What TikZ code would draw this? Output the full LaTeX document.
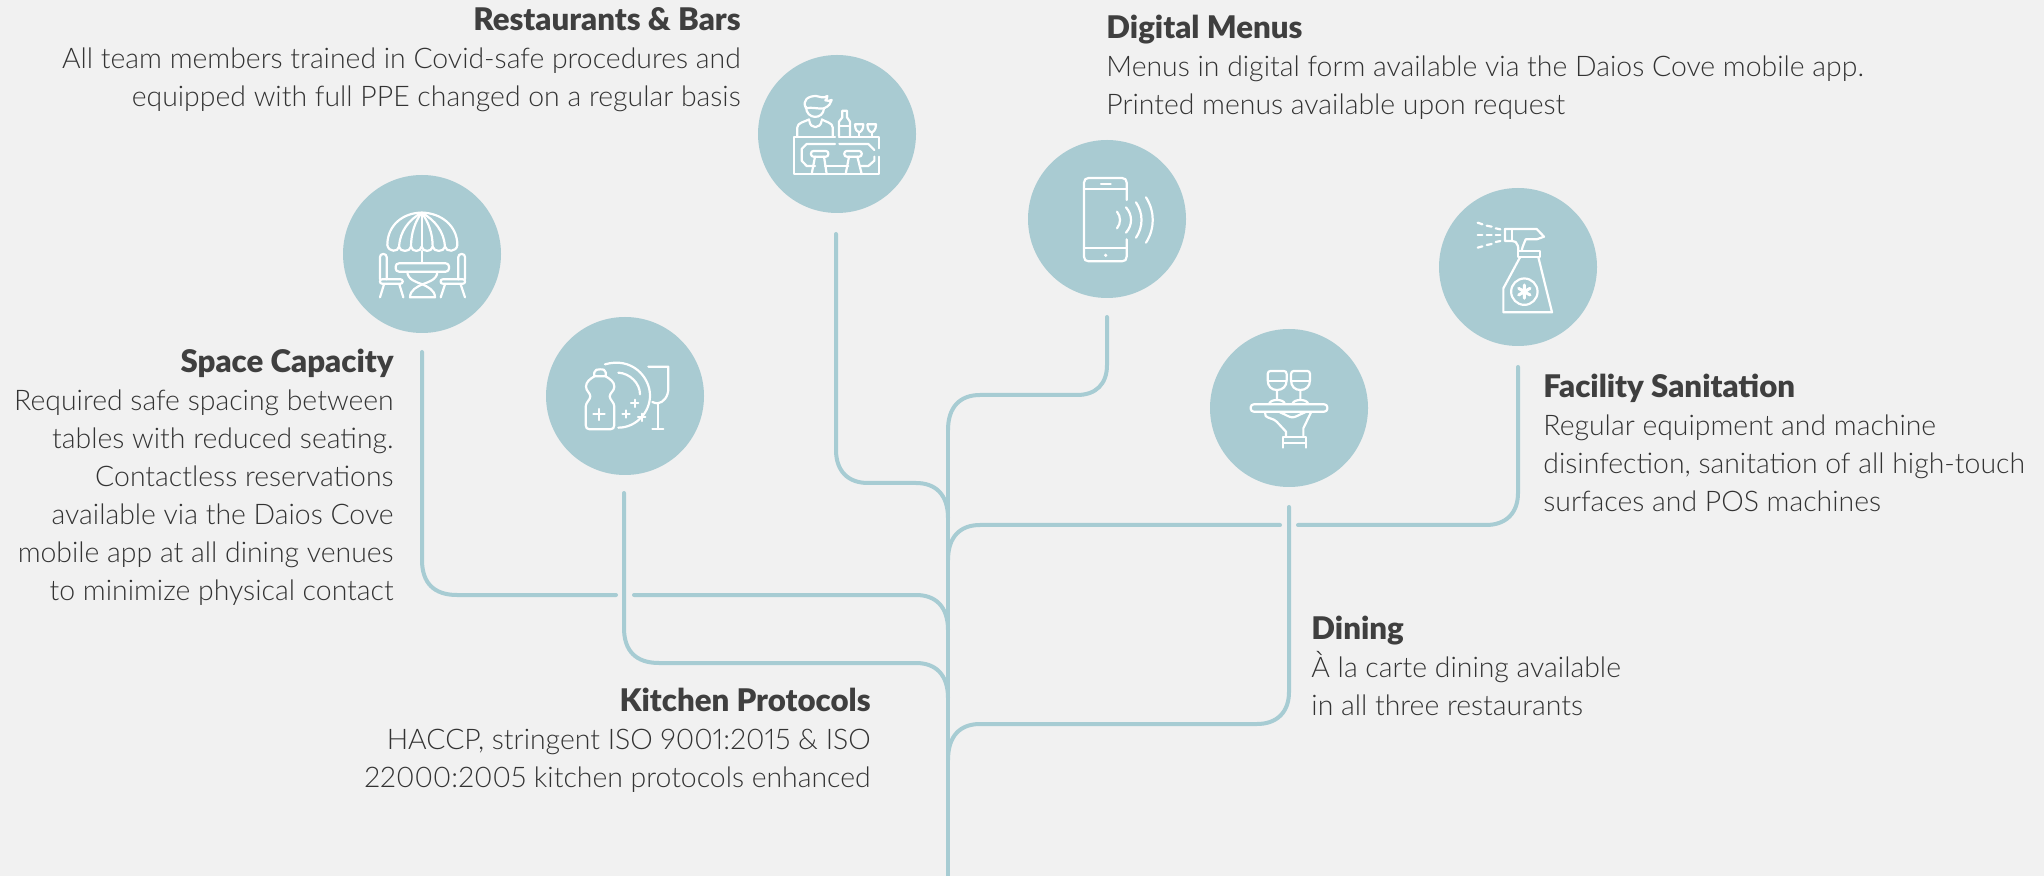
\documentclass[tikz,border=0pt]{standalone}
\usepackage{fontspec}
\setmainfont{Lato}[UprightFont=* Light,BoldFont=* Black,Numbers=Proportional]
\definecolor{bgc}{HTML}{F1F1F1}
\definecolor{teal}{HTML}{A9CBD2}
\definecolor{linec}{HTML}{A7CCD3}
\definecolor{txt}{HTML}{333333}
\definecolor{hdc}{HTML}{3F3F3F}
\newcommand{\bodysize}{\fontsize{14.2}{19}\selectfont}
\newcommand{\hd}[1]{{\rule{0pt}{12pt}\fontsize{15.6}{19}\selectfont\bfseries\color{hdc} #1}}
\begin{document}
\begin{tikzpicture}[x=0.5pt,y=-0.5pt,
  badge/.style={circle,fill=teal,minimum size=79pt,inner sep=0pt,draw=none},
  branch/.style={draw=linec,line width=2pt,line cap=round,line join=round},
  blockr/.style={anchor=north east,inner sep=0pt,align=right,text=txt,font=\bodysize},
  blockl/.style={anchor=north west,inner sep=0pt,align=left,text=txt,font=\bodysize},
  glyph/.style={x=0.16667pt,y=-0.16667pt,draw=white,line width=1.1pt,line cap=round,line join=round}]
\useasboundingbox (0,0) rectangle (2044,876);
\fill[bgc] (0,0) rectangle (2044,876);
% badges
\node[badge] (rest) at (837,134) {};
\node[badge] (space) at (422,254) {};
\node[badge] (kitchen) at (625,396) {};
\node[badge] (digital) at (1107,219) {};
\node[badge] (dining) at (1289,408) {};
\node[badge] (facility) at (1518,267) {};
% connector ends
\coordinate (tb) at (948,876);
\coordinate (tt) at (948,430);
\coordinate (rs) at (836,234);
\coordinate (ss) at (422,352);
\coordinate (ks) at (624,493);
\coordinate (ds) at (1107,317);
\coordinate (ns) at (1289,507);
\coordinate (fs) at (1518,367);
\coordinate (sgl) at (616,595);
\coordinate (sgr) at (634,595);
\coordinate (fgl) at (1280,525);
\coordinate (fgr) at (1298,525);
% trunk and branches
\draw[branch] (tb) -- (tt);
\draw[branch] (tt) .. controls (948,407) and (960,395) .. (980,395) -- (1077,395) .. controls (1096,395) and (1107,384) .. (1107,365) -- (ds);
\draw[branch] (rs) -- (836,450) .. controls (836,471) and (848,483) .. (868,483) -- (916,483) .. controls (936,483) and (948,495) .. (948,518);
\draw[branch] (ss) -- (422,560) .. controls (422,583) and (434,595) .. (457,595) -- (sgl);
\draw[branch] (sgr) -- (916,595) .. controls (936,595) and (948,607) .. (948,630);
\draw[branch] (ks) -- (624,628) .. controls (624,651) and (636,663) .. (659,663) -- (916,663) .. controls (936,663) and (948,675) .. (948,698);
\draw[branch] (948,560) .. controls (948,537) and (960,525) .. (980,525) -- (fgl);
\draw[branch] (fgr) -- (1486,525) .. controls (1506,525) and (1518,513) .. (1518,493) -- (fs);
\draw[branch] (948,760) .. controls (948,736) and (960,724) .. (980,724) -- (1257,724) .. controls (1277,724) and (1289,712) .. (1289,692) -- (ns);
% text
\node[blockr] (t1) at (741,6.5) {\hd{Restaurants \& Bars}\\All team members trained in Covid-safe procedures and\\equipped with full PPE changed on a regular basis};
\node[blockl] (t2) at (1106,14) {\hd{Digital Menus}\\Menus in digital form available via the Daios Cove mobile app.\\Printed menus available upon request};
\node[blockr] (t3) at (394,348) {\hd{Space Capacity}\\Required safe spacing between\\tables with reduced seating.\\Contactless reservations\\available via the Daios Cove\\mobile app at all dining venues\\to minimize physical contact};
\node[blockr] (t4) at (871,687) {\hd{Kitchen Protocols}\\HACCP, stringent ISO 9001:2015 \& ISO\\22000:2005 kitchen protocols enhanced};
\node[blockl] (t5) at (1543,373) {\hd{Facility Sanitation}\\Regular equipment and machine\\disinfection, sanitation of all high-touch\\surfaces and POS machines};
\node[blockl] (t6) at (1311,615) {\hd{Dining}\\À la carte dining available\\in all three restaurants};
% bar icon
\begin{scope}[shift={(740,40)},glyph]
\draw (285,290)--(162,290)--(162,402)--(418,402)--(418,350);
\draw (418,325)--(418,290)--(297,290);
\draw (285,312)--(200,312)--(185,327)--(185,362)--(200,378)--(225,378);
\draw (255,378)--(325,378);
\draw (360,378)--(385,378)--(403,362)--(403,350);
\draw (403,330)--(385,312)--(298,312);
\draw[rounded corners=1.2pt] (213,333) rectangle (265,350);
\draw[rounded corners=1.2pt] (313,333) rectangle (365,350);
\draw (225,350)--(215,402) (252,350)--(260,402) (327,350)--(317,402) (352,350)--(365,402);
\draw (172,288)--(172,262) .. controls (172,248) and (195,245) .. (208,238);
\draw (245,238) .. controls (255,245) and (278,248) .. (278,262)--(278,288);
\draw (208,242) .. controls (210,268) and (242,268) .. (245,242);
\draw (198,200) .. controls (198,240) and (250,240) .. (252,205);
\draw (198,205) .. controls (185,180) and (205,168) .. (228,168) .. controls (240,170) and (250,176) .. (262,168) .. controls (262,175) and (260,178) .. (256,181) .. controls (262,183) and (268,183) .. (275,180) .. controls (272,190) and (268,198) .. (252,205) .. controls (235,208) and (215,200) .. (198,205);
\draw (297,288)--(297,245)--(307,232)--(307,212)--(321,212)--(321,232)--(330,245)--(330,288);
\draw (297,258)--(330,258);
\draw (345,253)--(370,253) .. controls (370,270) and (362,276) .. (357,277) .. controls (352,276) and (345,270) .. (345,253);
\draw (357,277)--(357,288);
\draw (382,253)--(408,253) .. controls (408,270) and (400,276) .. (395,277) .. controls (390,276) and (382,270) .. (382,253);
\draw (395,277)--(395,288);
\end{scope}
% umbrella icon
\begin{scope}[shift={(330,165)},glyph]
\draw (172,240) .. controls (172,180) and (220,143) .. (275,143) .. controls (330,143) and (382,180) .. (382,240);
\draw (172,240) .. controls (175,262) and (205,262) .. (207,245) .. controls (210,262) and (240,262) .. (243,245) .. controls (246,262) and (272,262) .. (275,245) .. controls (278,262) and (305,262) .. (308,245) .. controls (311,262) and (342,262) .. (345,245) .. controls (348,262) and (380,262) .. (382,240);
\draw (275,143) .. controls (235,165) and (210,200) .. (207,245);
\draw (275,143) .. controls (255,170) and (243,205) .. (243,245);
\draw (275,143)--(275,245);
\draw (275,143) .. controls (295,170) and (308,205) .. (308,245);
\draw (275,143) .. controls (315,165) and (342,200) .. (345,245);
\draw (275,258)--(275,294);
\draw[rounded corners=1.6pt] (197,295) rectangle (357,320);
\draw (232,320) .. controls (232,345) and (262,352) .. (277,358) .. controls (292,352) and (322,345) .. (322,320);
\draw (240,397) .. controls (240,375) and (262,365) .. (277,358) .. controls (292,365) and (315,375) .. (315,397)--cycle;
\draw[rounded corners=1.5pt] (150,343)--(150,267)--(170,267)--(170,343);
\draw[rounded corners=1pt] (150,343)--(218,343)--(218,356)--(150,356)--cycle;
\draw (162,358)--(150,397) (208,358)--(220,397);
\draw[rounded corners=1.5pt] (405,343)--(405,267)--(385,267)--(385,343);
\draw[rounded corners=1pt] (405,343)--(332,343)--(332,356)--(405,356)--cycle;
\draw (392,358)--(405,397) (345,358)--(332,397);
\end{scope}
% detergent icon
\begin{scope}[shift={(535,305)},glyph]
\draw (178,214)--(178,202) .. controls (180,194) and (186,193) .. (195,193) .. controls (205,193) and (211,194) .. (212,202)--(212,214)--cycle;
\draw (178,214) .. controls (165,222) and (153,230) .. (153,245) .. controls (153,258) and (166,264) .. (166,274) .. controls (166,284) and (152,292) .. (152,305)--(152,360) .. controls (152,368) and (156,373) .. (164,373)--(226,373) .. controls (234,373) and (238,368) .. (238,360)--(238,305) .. controls (238,292) and (224,284) .. (224,274) .. controls (224,264) and (238,258) .. (238,245) .. controls (238,230) and (225,222) .. (212,214);
\draw (192,312)--(192,345) (175,328)--(209,328);
\draw (210,178) .. controls (290,155) and (345,215) .. (345,272) .. controls (345,320) and (305,368) .. (250,368);
\draw (250,203) .. controls (285,205) and (315,235) .. (315,268);
\draw (299,284)--(299,306) (288,295)--(310,295);
\draw (273,316)--(273,338) (262,327)--(284,327);
\draw (320,326)--(320,348) (309,337)--(331,337);
\draw (340,185)--(400,185)--(400,250) .. controls (400,275) and (385,293) .. (368,295) .. controls (362,295) and (357,293) .. (352,291);
\draw (368,295)--(368,372) (352,372)--(385,372);
\end{scope}
% phone icon
\begin{scope}[shift={(1020,130)},glyph]
\draw (320,210)--(320,158) .. controls (320,149) and (315,144) .. (306,144)--(206,144) .. controls (197,144) and (192,149) .. (192,158)--(192,380) .. controls (192,389) and (197,394) .. (206,394)--(306,394) .. controls (315,394) and (320,389) .. (320,380)--(320,328);
\draw (192,178)--(320,178) (192,355)--(320,355);
\draw (243,161)--(272,161);
\fill[white] (257,376) circle (0.9pt);
\draw (291,245) .. controls (303,260) and (303,280) .. (291,295);
\draw (318,232) .. controls (338,255) and (338,285) .. (318,308);
\draw (348,217) .. controls (370,250) and (370,290) .. (348,323);
\draw (378,202) .. controls (405,245) and (405,295) .. (378,338);
\end{scope}
% tray icon
\begin{scope}[shift={(1205,320)},glyph]
\draw[rounded corners=1.5pt] (137,253) rectangle (367,275);
\draw (190,183)--(244,183);
\draw (216,210) .. controls (200,210) and (188,200) .. (188,180)--(188,162) .. controls (188,156) and (192,153) .. (196,153)--(237,153) .. controls (241,153) and (245,156) .. (245,162)--(245,180) .. controls (245,200) and (232,210) .. (216,210)--(216,240);
\draw (192,252) .. controls (195,243) and (205,240) .. (216,240) .. controls (227,240) and (237,243) .. (240,252);
\draw (260,183)--(314,183);
\draw (286,210) .. controls (270,210) and (258,200) .. (258,180)--(258,162) .. controls (258,156) and (262,153) .. (266,153)--(307,153) .. controls (311,153) and (315,156) .. (315,162)--(315,180) .. controls (315,200) and (302,210) .. (286,210)--(286,240);
\draw (262,252) .. controls (265,243) and (275,240) .. (286,240) .. controls (297,240) and (307,243) .. (310,252);
\draw (180,277)--(182,288) .. controls (190,296) and (205,295) .. (215,305)--(243,335)--(243,350);
\draw (318,277)--(295,325)--(295,350);
\draw (225,277) .. controls (245,285) and (252,292) .. (262,292) .. controls (272,292) and (280,285) .. (300,277);
\draw (235,383)--(235,350)--(303,350)--(303,383) (235,368)--(303,368);
\end{scope}
% spray icon
\begin{scope}[shift={(1425,180)},glyph]
\draw (240,147)--(335,147)--(357,170)--(335,178)--(302,178) .. controls (298,188) and (292,200) .. (290,212);
\draw (240,147)--(240,183)--(262,183)--(272,186) .. controls (278,192) and (280,200) .. (280,212);
\draw (260,147)--(260,183);
\draw (278,212) rectangle (345,232);
\draw (285,232)--(235,325)--(235,397)--(381,397)--(340,232);
\draw (298,335) circle (6.6pt);
\draw[line width=1.5pt] (298,315)--(298,355) (281,325)--(315,345) (281,345)--(315,325);
\draw (158,128)--(172,133) (185,137)--(200,140) (212,145)--(226,148);
\draw (158,166)--(172,166) (185,166)--(200,166) (212,166)--(226,166);
\draw (158,203)--(172,199) (185,195)--(200,192) (212,186)--(226,183);
\end{scope}
\end{tikzpicture}
\end{document}
